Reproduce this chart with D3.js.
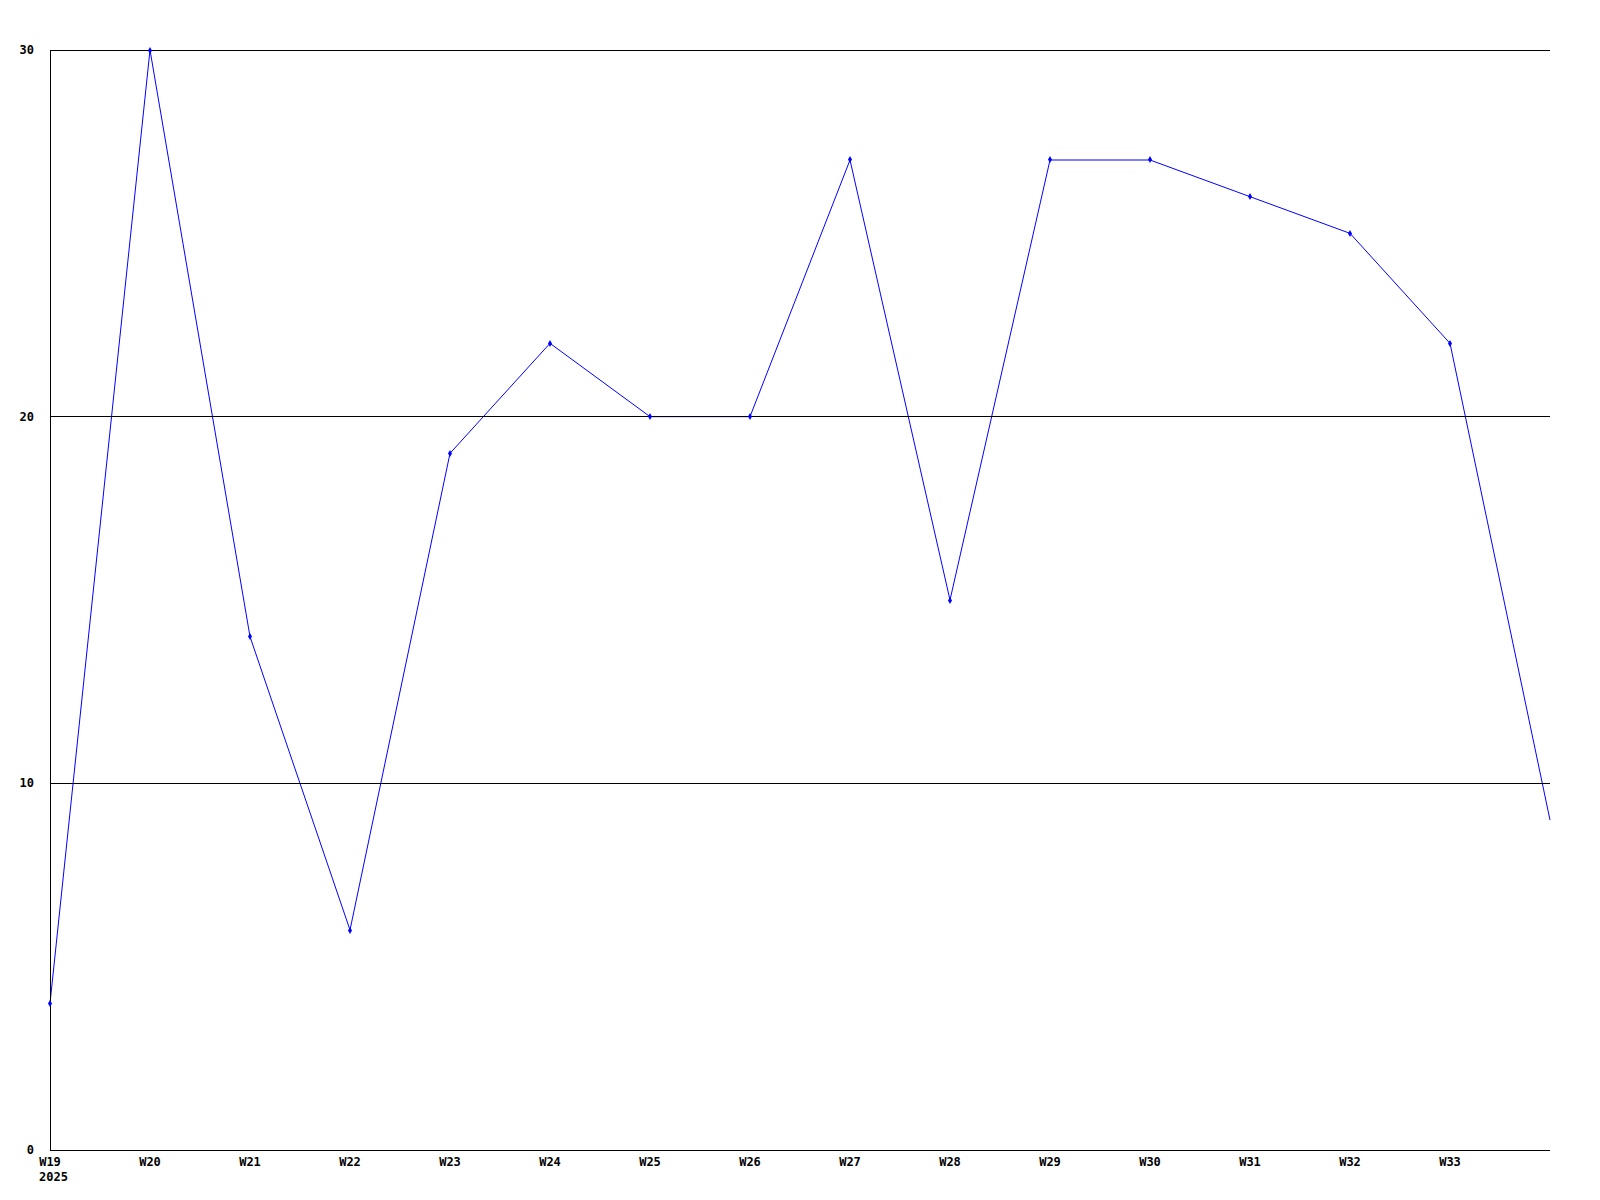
<!DOCTYPE html>
<html>
<head>
<meta charset="utf-8">
<script src="https://cdn.jsdelivr.net/npm/d3@7"></script>
<style>
  html, body { margin: 0; padding: 0; background: #fff; }
  svg { display: block; }
  text { font-family: "DejaVu Sans Mono", "Liberation Mono", monospace; font-weight: bold; font-size: 12px; fill: #000; }
</style>
</head>
<body>
<svg id="chart" width="1600" height="1200"></svg>
<script>
const weeks = ["W19","W20","W21","W22","W23","W24","W25","W26","W27","W28","W29","W30","W31","W32","W33","W34"];
const values = [4, 30, 14, 6, 19, 22, 20, 20, 27, 15, 27, 27, 26, 25, 22, 9];
const tickLabels = ["W19","W20","W21","W22","W23","W24","W25","W26","W27","W28","W29","W30","W31","W32","W33"];
const yearLabel = "2025";
const yTicks = [0, 10, 20, 30];

(function () {
  const svg = d3.select("#chart");
  const plotLeft = 50, plotRight = 1550, plotTop = 50, plotBottom = 1150;

  const x = d3.scalePoint().domain(weeks).range([plotLeft, plotRight]);
  const y = d3.scaleLinear().domain([0, 30]).range([plotBottom, plotTop]);

  // line (drawn beneath grid lines, as in the reference)
  const line = d3.line().x((d, i) => x(weeks[i])).y(d => y(d));
  svg.append("path").datum(values)
    .attr("d", line).attr("fill", "none").attr("stroke", "#0000ff").attr("stroke-width", 1);

  // horizontal grid lines
  svg.append("g").selectAll("line").data(yTicks.filter(d => d > 0)).join("line")
    .attr("x1", plotLeft).attr("x2", plotRight)
    .attr("y1", d => Math.floor(y(d)) + 0.5).attr("y2", d => Math.floor(y(d)) + 0.5)
    .attr("stroke", "#000").attr("stroke-width", 1).attr("shape-rendering", "crispEdges");

  // axes lines
  svg.append("line").attr("x1", plotLeft + 0.5).attr("x2", plotLeft + 0.5).attr("y1", plotTop).attr("y2", plotBottom + 1)
    .attr("stroke", "#000").attr("shape-rendering", "crispEdges");
  svg.append("line").attr("x1", plotLeft).attr("x2", plotRight).attr("y1", plotBottom + 0.5).attr("y2", plotBottom + 0.5)
    .attr("stroke", "#000").attr("shape-rendering", "crispEdges");

  // y labels
  svg.append("g").selectAll("text").data(yTicks).join("text")
    .attr("x", 34).attr("y", d => y(d) + 4)
    .attr("text-anchor", "end").text(d => d);

  // x labels
  svg.append("g").selectAll("text").data(tickLabels).join("text")
    .attr("x", d => x(d)).attr("y", 1166)
    .attr("text-anchor", "middle").text(d => d);
  svg.append("text").attr("x", x(weeks[0]) - 11).attr("y", 1181).text(yearLabel);

  // markers
  svg.append("g").selectAll("path").data(values.slice(0, tickLabels.length)).join("path")
    .attr("d", d3.symbol().type(d3.symbolDiamond).size(14))
    .attr("transform", (d, i) => `translate(${x(weeks[i])},${Math.floor(y(d)) + 0.5})`)
    .attr("fill", "#0000ff");
})();
</script>
</body>
</html>
